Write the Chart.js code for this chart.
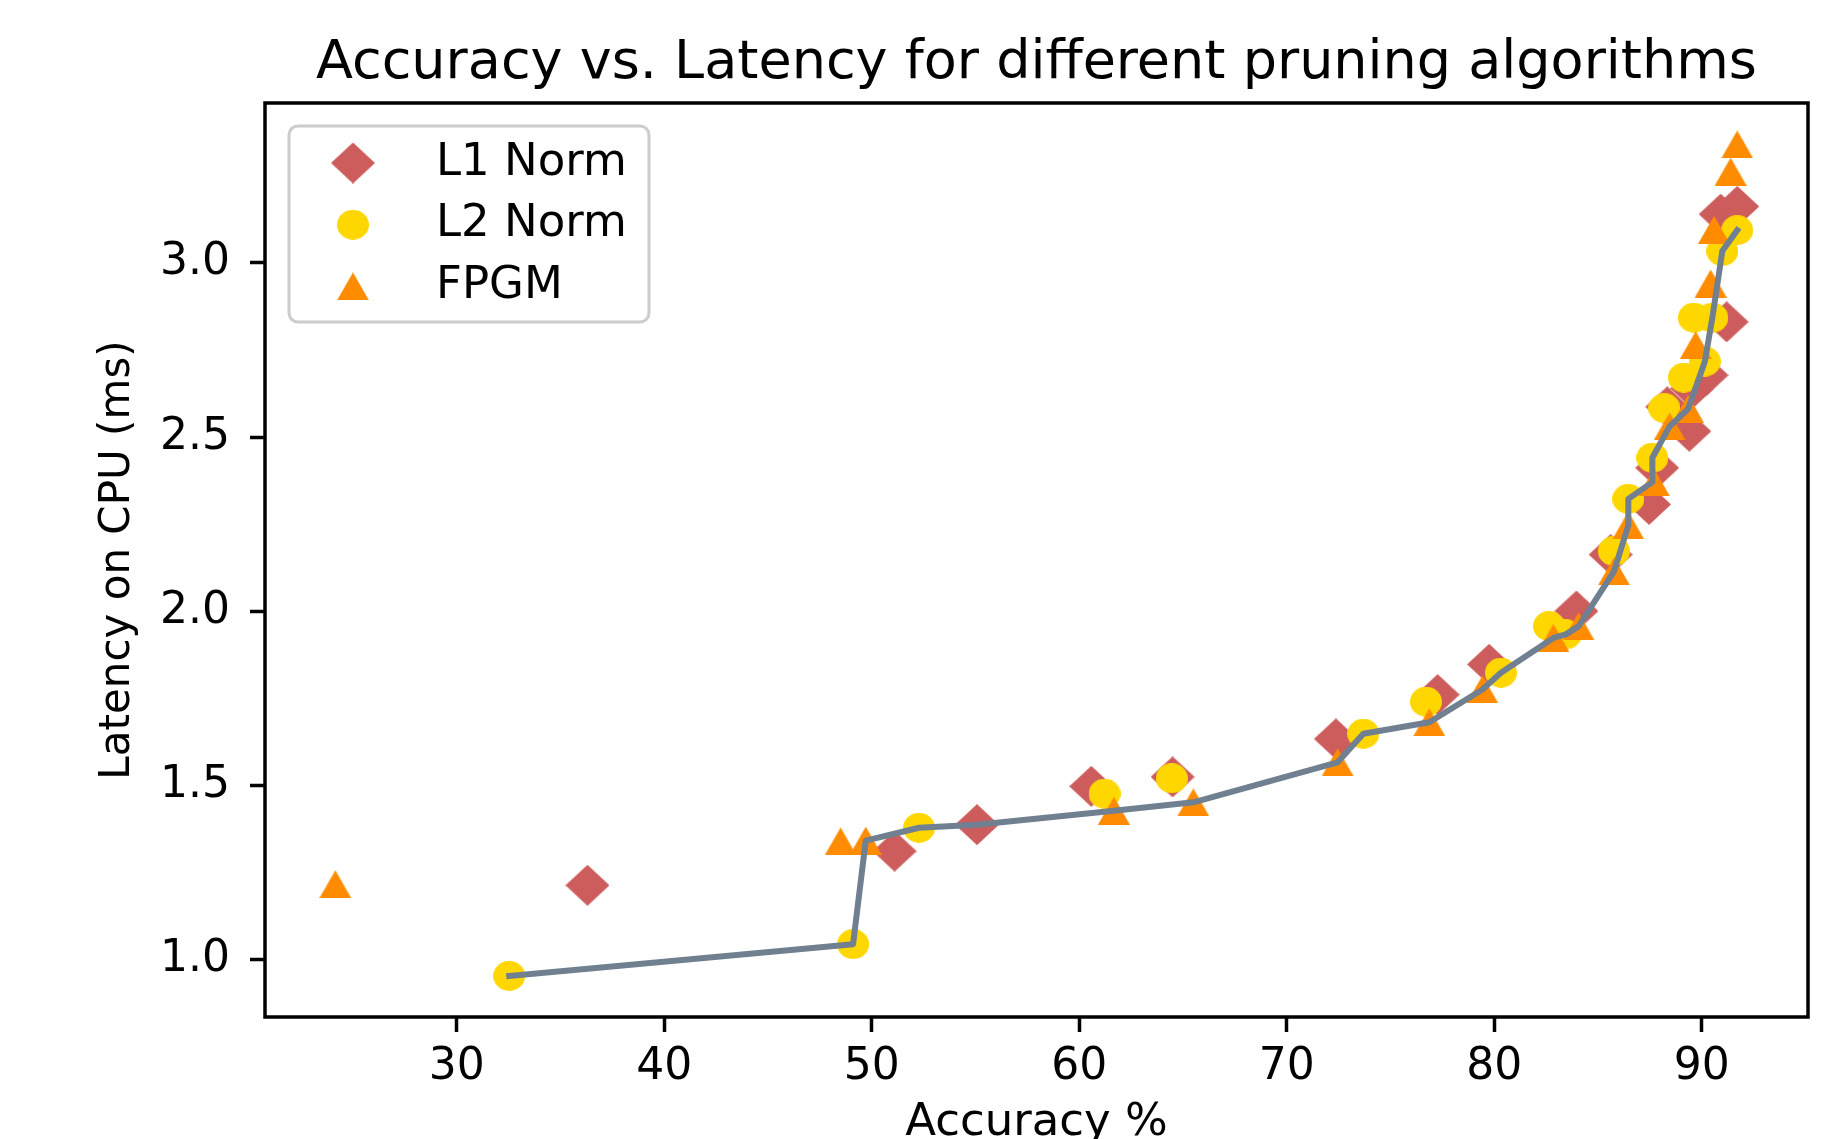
<!DOCTYPE html>
<html>
<head>
<meta charset="utf-8">
<title>Accuracy vs. Latency</title>
<script src="https://cdn.jsdelivr.net/npm/chart.js@4.4.1/dist/chart.umd.min.js"></script>
<style>
	html, body { margin: 0; padding: 0; background: #ffffff; }
	#chart { display: block; }
</style>
</head>
<body>
<canvas id="chart" width="1845" height="1139"></canvas>
<script>
	// accuracy (%) / latency on CPU (ms)
	var l1Acc  = [36.3, 51.1, 55.07, 60.58, 64.5, 72.37, 77.27, 79.75, 83.96, 85.61, 87.46, 87.85, 89.4, 88.34, 89.54, 90.23, 91.2, 90.91, 91.71];
	var l1Lat  = [1.214, 1.312, 1.388, 1.498, 1.525, 1.634, 1.761, 1.848, 2.001, 2.163, 2.307, 2.412, 2.517, 2.587, 2.64, 2.678, 2.831, 3.14, 3.162];

	var l2Acc  = [32.53, 49.1, 52.28, 61.22, 64.46, 73.69, 76.71, 80.32, 82.64, 83.45, 85.77, 86.46, 87.62, 88.2, 89.14, 90.15, 89.62, 90.51, 90.99, 91.71];
	var l2Lat  = [0.954, 1.045, 1.379, 1.477, 1.521, 1.649, 1.741, 1.824, 1.958, 1.934, 2.173, 2.323, 2.441, 2.583, 2.671, 2.717, 2.843, 2.843, 3.034, 3.094];

	var fpgmAcc = [24.15, 48.5, 49.71, 61.67, 65.5, 72.45, 76.87, 79.43, 82.85, 84.06, 85.77, 86.46, 87.7, 88.45, 89.34, 89.71, 90.43, 90.59, 91.39, 91.71];
	var fpgmLat = [1.217, 1.34, 1.342, 1.428, 1.452, 1.567, 1.682, 1.776, 1.924, 1.957, 2.115, 2.247, 2.37, 2.531, 2.581, 2.764, 2.941, 3.095, 3.262, 3.34];

	// grey trade-off line
	var frontAcc = [32.53, 49.1, 49.71, 52.28, 55.07, 61.67, 65.5, 72.45, 73.69, 76.87, 79.43, 80.32, 82.85, 83.45, 84.06, 85.77, 86.46, 86.46, 87.62, 87.62, 88.45, 89.34, 90.15, 90.51, 90.99, 91.71];
	var frontLat = [0.954, 1.045, 1.342, 1.379, 1.388, 1.428, 1.452, 1.567, 1.649, 1.682, 1.776, 1.824, 1.924, 1.934, 1.957, 2.115, 2.247, 2.323, 2.371, 2.441, 2.531, 2.581, 2.717, 2.843, 3.034, 3.094];

	var xTicks = [30, 40, 50, 60, 70, 80, 90];
	var yTicks = [1.0, 1.5, 2.0, 2.5, 3.0];
	var xLimits = [20.76, 95.12];
	var yLimits = [0.836, 3.459];

	function pairs(xs, ys){
		var out = [];
		for (var i = 0; i < xs.length; i++){
			out.push({x: xs[i], y: ys[i]});
		}
		return out;
	}

	// matplotlib-like markers as small canvases
	function markerCanvas(w, h, color, shape){
		var c = document.createElement('canvas');
		c.width = w;
		c.height = h;
		var g = c.getContext('2d');
		g.fillStyle = color;
		g.beginPath();
		if (shape == 'diamond'){
			g.moveTo(w/2, 0); g.lineTo(w, h/2); g.lineTo(w/2, h); g.lineTo(0, h/2);
		}
		else if (shape == 'circle'){
			g.ellipse(w/2, h/2, w/2, h/2, 0, 0, 2*Math.PI);
		}
		else {
			g.moveTo(w/2, 0); g.lineTo(w, h); g.lineTo(0, h);
		}
		g.closePath();
		g.fill();
		return c;
	}

	var diamond  = markerCanvas(44, 41, '#cd5c5c', 'diamond');
	var circle   = markerCanvas(32, 30, '#ffd700', 'circle');
	var triangle = markerCanvas(32, 28, '#ff8c00', 'triangle');

	var frame = {
		id: 'frame',
		afterDatasetsDraw: function(chart){
			var a = chart.chartArea, ctx = chart.ctx;
			ctx.save();
			ctx.lineWidth = 3.5;
			ctx.strokeStyle = '#000000';
			ctx.strokeRect(a.left, a.top, a.right - a.left, a.bottom - a.top);
			ctx.restore();
		}
	};

	// legend box in the upper left of the axes
	var legendBox = {
		id: 'legendBox',
		afterDraw: function(chart){
			var a = chart.chartArea, ctx = chart.ctx;
			var left = a.left + 24, top = a.top + 23;
			ctx.save();
			ctx.beginPath();
			ctx.roundRect(left, top, 360, 196, 9);
			ctx.fillStyle = 'rgba(255,255,255,0.8)';
			ctx.fill();
			ctx.lineWidth = 3;
			ctx.strokeStyle = '#cccccc';
			ctx.stroke();
			ctx.font = '45px "DejaVu Sans"';
			ctx.fillStyle = '#000000';
			ctx.textBaseline = 'alphabetic';
			ctx.textAlign = 'left';
			var row = 0;
			chart.data.datasets.forEach(function(ds){
				if (!ds.inLegend) return;
				var y = top + 37 + row*61.7;
				Chart.helpers.drawPoint(ctx, {pointStyle: ds.pointStyle, radius: 16, rotation: 0}, left + 64, y);
				ctx.fillText(ds.label, left + 147, y + 11.5);
				row++;
			});
			ctx.restore();
		}
	};

	Chart.defaults.font.family = '"DejaVu Sans"';
	Chart.defaults.color = '#000000';

	var ctx = document.getElementById('chart').getContext('2d');
	var myChart = new Chart(ctx, {
		type: 'scatter',
		data: {
			datasets: [
				{
					label: 'Trade-off',
					data: pairs(frontAcc, frontLat),
					showLine: true,
					borderColor: '#708090',
					borderWidth: 6,
					borderJoinStyle: 'round',
					borderCapStyle: 'square',
					pointRadius: 0,
					fill: false,
					order: 0
				},
				{
					label: 'L1 Norm',
					data: pairs(l1Acc, l1Lat),
					pointStyle: diamond,
					pointRadius: 20,
					inLegend: true,
					order: 3
				},
				{
					label: 'L2 Norm',
					data: pairs(l2Acc, l2Lat),
					pointStyle: circle,
					pointRadius: 16,
					inLegend: true,
					order: 2
				},
				{
					label: 'FPGM',
					data: pairs(fpgmAcc, fpgmLat),
					pointStyle: triangle,
					pointRadius: 16,
					inLegend: true,
					order: 1
				}
			]
		},
		options: {
			responsive: false,
			animation: false,
			devicePixelRatio: 1,
			events: [],
			layout: { padding: { left: 0, top: 0, right: 37, bottom: 0 } },
			plugins: {
				legend: { display: false },
				tooltip: { enabled: false },
				title: {
					display: true,
					fullSize: false,
					text: 'Accuracy vs. Latency for different pruning algorithms',
					color: '#000000',
					font: { size: 54, weight: 'normal', lineHeight: 1.2 },
					padding: { top: 31.6, bottom: 6.6 }
				}
			},
			scales: {
				x: {
					type: 'linear',
					min: xLimits[0],
					max: xLimits[1],
					afterFit: function(scale){ scale.height = 122; },
					afterBuildTicks: function(scale){
						scale.ticks = xTicks.map(function(v){ return {value: v}; });
					},
					grid: { display: true, drawOnChartArea: false, drawTicks: true, tickLength: 15, tickWidth: 3.5, tickColor: '#000000' },
					border: { display: false },
					ticks: {
						padding: 9,
						font: { size: 44 },
						color: '#000000',
						maxRotation: 0,
						callback: function(v){ return String(v); }
					},
					title: {
						display: true,
						text: 'Accuracy %',
						color: '#000000',
						font: { size: 45, lineHeight: 0.7 },
						padding: { top: 0, bottom: 0 }
					}
				},
				y: {
					type: 'linear',
					min: yLimits[0],
					max: yLimits[1],
					afterFit: function(scale){ scale.width = 265; },
					afterBuildTicks: function(scale){
						scale.ticks = yTicks.map(function(v){ return {value: v}; });
					},
					grid: { display: true, drawOnChartArea: false, drawTicks: true, tickLength: 15, tickWidth: 3.5, tickColor: '#000000' },
					border: { display: false },
					ticks: {
						padding: 20,
						font: { size: 44 },
						color: '#000000',
						callback: function(v){ return v.toFixed(1); }
					},
					title: {
						display: true,
						text: 'Latency on CPU (ms)',
						color: '#000000',
						font: { size: 42, lineHeight: 1.2 },
						padding: { top: 93, bottom: 0 }
					}
				}
			}
		},
		plugins: [frame, legendBox]
	});
</script>
</body>
</html>
